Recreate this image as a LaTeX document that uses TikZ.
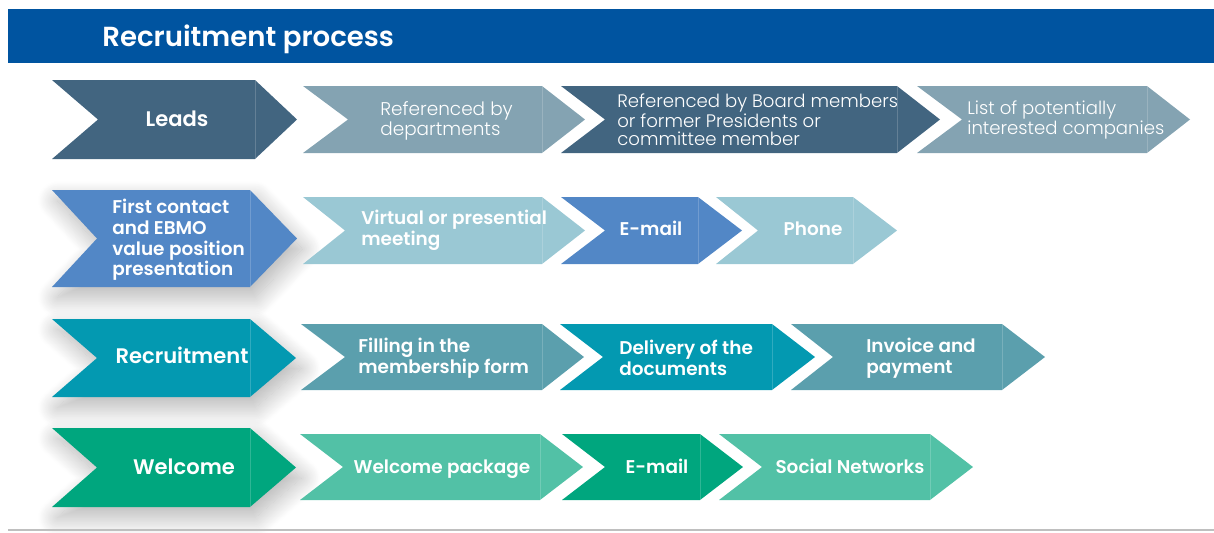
\documentclass[tikz,border=0pt]{standalone}
\usepackage{fontspec}
\setmainfont{Poppins}
\IfFontExistsTF{Poppins SemiBold}{\newfontfamily\semib{Poppins SemiBold}}{\newcommand\semib{\bfseries}}
\IfFontExistsTF{Poppins Light}{\newfontfamily\lite{Poppins Light}}{\newcommand\lite{\normalfont}}
\usetikzlibrary{shadows.blur}

\definecolor{titleblue}{RGB}{0,84,160}
\definecolor{slate}{RGB}{66,101,128}
\definecolor{paleslate}{RGB}{132,163,178}
\definecolor{steelblue}{RGB}{82,135,198}
\definecolor{paleblue}{RGB}{154,200,212}
\definecolor{teal}{RGB}{3,153,177}
\definecolor{paleteal}{RGB}{91,159,173}
\definecolor{jade}{RGB}{0,166,126}
\definecolor{palejade}{RGB}{82,193,166}

\tikzset{x=0.02cm, y=-0.02cm,
  lbl/.style={text=white, inner sep=0pt, align=left, font=\semib\fontsize{10.5}{12}\selectfont},
  headlbl/.style={lbl, font=\semib\fontsize{12}{14}\selectfont},
  thinlbl/.style={lbl, font=\lite\fontsize{10.3}{10.3}\selectfont},
  seam/.style={white, opacity=0.18, line width=0.4pt},
  deep/.style={blur shadow={shadow xshift=3pt, shadow yshift=-6pt,
      shadow blur radius=11pt, shadow blur steps=30, shadow opacity=30}}}

% left, notch, seam, tip, top, bottom, fill options
\newcommand\chev[7]{%
  \path[#7] (#1,#5) -- (#3,#5) -- (#4,{(#5+#6)/2}) -- (#3,#6) -- (#1,#6)
    -- (#2,{(#5+#6)/2}) -- cycle;
  \draw[seam] (#3,#5) -- (#3,#6);}

\begin{document}
\begin{tikzpicture}
\useasboundingbox (0,0) rectangle (1214,532);
\fill[titleblue] (8,9) rectangle (1214,63);
\node[lbl, anchor=base west, font=\semib\fontsize{15.7}{18}\selectfont] (title) at (102,46) {Recruitment process};

% row 1
\chev{52}{98}{255}{297}{80}{159}{fill=slate}
\chev{303}{348}{542}{585}{86}{153}{fill=paleslate}
\chev{561}{605}{897}{940}{86}{153}{fill=slate}
\chev{917}{962}{1147}{1190}{86}{153}{fill=paleslate}
\node[headlbl, anchor=base] (leads) at (177,126) {Leads};
\node[thinlbl, anchor=west, font=\lite\fontsize{10.5}{11.5}\selectfont] (bydep) at (380,121) {Referenced by\\departments};
\node[thinlbl, anchor=west] (byboard) at (617,120) {Referenced by Board members\\or former Presidents or\\committee member};
\node[thinlbl, anchor=west] (list) at (967,120) {List of potentially\\interested companies};

% row 2
\chev{52}{97}{250}{297}{190}{287}{fill=steelblue, deep}
\chev{303}{345}{542}{585}{197}{264}{fill=paleblue}
\chev{561}{605}{698}{742}{197}{264}{fill=steelblue}
\chev{716}{758}{853}{897}{197}{264}{fill=paleblue}
\node[lbl, anchor=west, font=\semib\fontsize{10.5}{11.7}\selectfont] (contact) at (112,240) {First contact\\and EBMO\\value position\\presentation};
\node[lbl, anchor=west] (meeting) at (361,230) {Virtual or presential\\meeting};
\node[lbl, anchor=base] (mail1) at (651,235) {E-mail};
\node[lbl, anchor=base] (phone) at (813,235) {Phone};

% row 3
\chev{52}{97}{250}{296}{319}{397}{fill=teal, deep}
\chev{301}{345}{542}{584}{324}{390}{fill=paleteal}
\chev{560}{603}{772}{815}{324}{390}{fill=teal}
\chev{791}{833}{1002}{1045}{324}{390}{fill=paleteal}
\node[headlbl, anchor=base] (recruit) at (182,363) {Recruitment};
\node[lbl, anchor=west] (form) at (358,358) {Filling in the\\membership form};
\node[lbl, anchor=west] (docs) at (619,358) {Delivery of the\\documents};
\node[lbl, anchor=west] (invoice) at (866,358) {Invoice and\\payment};

% row 4
\chev{52}{97}{250}{296}{428}{507}{fill=jade, deep}
\chev{300}{343}{540}{583}{434}{500}{fill=palejade}
\chev{562}{605}{700}{743}{434}{500}{fill=jade}
\chev{719}{762}{930}{973}{434}{500}{fill=palejade}
\node[headlbl, anchor=base] (welcome) at (184,474) {Welcome};
\node[lbl, anchor=base] (package) at (442,473) {Welcome package};
\node[lbl, anchor=base] (mail2) at (657,473) {E-mail};
\node[lbl, anchor=base] (social) at (850,473) {Social Networks};

\draw[black!25, line width=1pt] (8,530) -- (1214,530);
\end{tikzpicture}
\end{document}
